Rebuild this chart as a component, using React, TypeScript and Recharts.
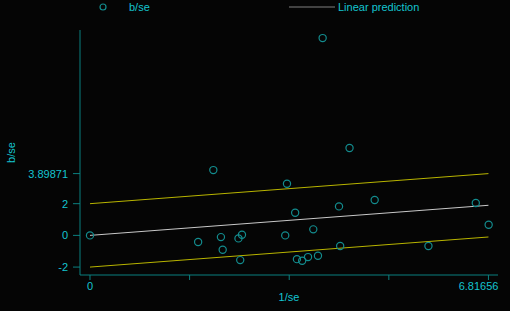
import React from 'react';
import { ComposedChart, Scatter, XAxis, YAxis } from 'recharts';

// Galbraith plot: b/se against 1/se
const invSe = [0, 2.11, 3.37, 3.51, 1.85, 2.24, 2.27, 2.54, 2.6, 3.34, 2.57, 3.54, 3.98, 4.44, 4.87, 4.26, 6.6, 6.82, 3.82, 4.28, 5.79, 3.63, 3.73, 3.9];
const bSe = [0, 4.12, 3.26, 1.43, -0.42, -0.11, -0.91, -0.19, 0.04, 0.0, -1.56, -1.5, 12.45, 5.51, 2.23, 1.83, 2.04, 0.67, 0.38, -0.67, -0.67, -1.6, -1.37, -1.29];

const fitX = [0, 6.81656];
const predY = [0, 1.89871];
const upperY = [2, 3.89871];
const lowerY = [-2, -0.10129];

const xTicks = [0, 1.70414, 3.40828, 5.11242, 6.81656];
const xTickLabels = ['0', '', '', '', '6.81656'];
const yTicks = [-2, 0, 2, 3.89871];

const points = invSe.map((x, i) => ({ x, y: bSe[i] }));
const toLine = (ys: number[]) => fitX.map((x, i) => ({ x, y: ys[i] }));

const TEXT = '#14c4d0';
const AXIS = '#0b8080';
const MARK = '#138c8e';
const FONT = '"Liberation Sans", Arial, sans-serif';

const NoDot = () => <g />;

const Hollow = (props: any) => {
  const { cx, cy } = props;
  if (cx == null || cy == null) return <g />;
  return <circle cx={cx} cy={cy} r={3.6} fill="none" stroke={MARK} strokeWidth={1.2} />;
};

// last label sits flush with the axis end, like Stata does
const XTick = (props: any) => {
  const { x, y, payload, index } = props;
  const label = xTickLabels[index] ?? '';
  if (!label) return <g />;
  const last = index === xTickLabels.length - 1;
  return (
    <text x={last ? x + 10 : x} y={y + 4} textAnchor={last ? 'end' : 'middle'} dominantBaseline="central"
      fill={TEXT} fontSize={11} fontFamily={FONT}>
      {label}
    </text>
  );
};

const YLabel = (props: any) => {
  const vb = props.viewBox || {};
  const cy = (vb.y ?? 30) + (vb.height ?? 245) / 2;
  return (
    <text x={11} y={cy} transform={`rotate(-90, 11, ${cy})`} textAnchor="middle" dominantBaseline="central"
      fill={TEXT} fontSize={11} fontFamily={FONT}>
      b/se
    </text>
  );
};

const LegendBox = () => (
  <svg width={510} height={16} style={{ position: 'absolute', left: 0, top: 0 }}>
    <circle cx={103} cy={7} r={3} fill="none" stroke={MARK} strokeWidth={1.2} />
    <text x={129} y={11} fill={TEXT} fontSize={11} fontFamily={FONT}>b/se</text>
    <line x1={289} x2={335} y1={7} y2={7} stroke="#808080" strokeWidth={1} />
    <text x={338} y={11} fill={TEXT} fontSize={11} fontFamily={FONT}>Linear prediction</text>
  </svg>
);

export default function App() {
  return (
    <div style={{ position: 'absolute', left: 0, top: 0, width: 510, height: 311, background: '#050505' }}>
      <ComposedChart width={510} height={311} margin={{ top: 30, right: 12, bottom: 0, left: 20 }}>
        <XAxis
          type="number"
          dataKey="x"
          domain={[-0.171, 6.98]}
          ticks={xTicks}
          interval={0}
          height={36}
          stroke={AXIS}
          tickSize={5}
          tick={<XTick />}
          label={{ value: '1/se', position: 'insideBottom', offset: 10, fill: TEXT, fontSize: 11, fontFamily: FONT }}
        />
        <YAxis
          type="number"
          dataKey="y"
          domain={[-2.5, 12.96]}
          ticks={yTicks}
          interval={0}
          width={60}
          stroke={AXIS}
          tickSize={7}
          tickMargin={5}
          tick={{ fill: TEXT, fontSize: 11, fontFamily: FONT }}
          label={<YLabel />}
        />
        <Scatter data={toLine(upperY)} line={{ stroke: '#b8b400', strokeWidth: 1 }} shape={<NoDot />} isAnimationActive={false} legendType="none" />
        <Scatter data={toLine(lowerY)} line={{ stroke: '#b8b400', strokeWidth: 1 }} shape={<NoDot />} isAnimationActive={false} legendType="none" />
        <Scatter data={toLine(predY)} line={{ stroke: '#c8c8c8', strokeWidth: 1 }} shape={<NoDot />} isAnimationActive={false} legendType="none" />
        <Scatter data={points} shape={<Hollow />} isAnimationActive={false} />
      </ComposedChart>
      <LegendBox />
    </div>
  );
}
